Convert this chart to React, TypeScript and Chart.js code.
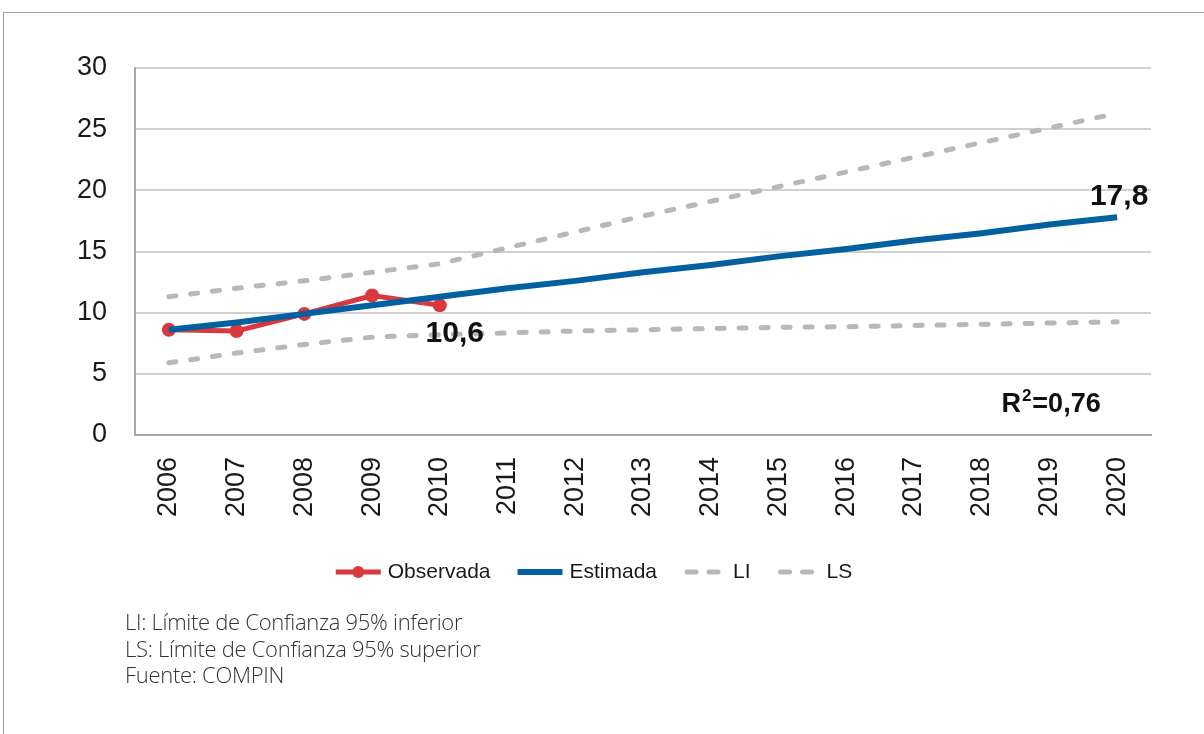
import React, { useEffect, useRef } from "react";
import { Chart, registerables } from "chart.js";

Chart.register(...registerables);

const years = ["2006","2007","2008","2009","2010","2011","2012","2013","2014","2015","2016","2017","2018","2019","2020"];
const observada = [8.6, 8.5, 9.9, 11.4, 10.6];
const estimada = [8.6, 9.2, 9.9, 10.6, 11.3, 12.0, 12.6, 13.3, 13.9, 14.6, 15.2, 15.9, 16.5, 17.2, 17.8];
const li = [5.9, 6.7, 7.4, 8.0, 8.2, 8.35, 8.5, 8.6, 8.7, 8.8, 8.85, 8.95, 9.05, 9.15, 9.25];
const ls = [11.3, 12.0, 12.6, 13.3, 14.0, 15.3, 16.6, 17.9, 19.1, 20.3, 21.5, 22.7, 23.9, 25.1, 26.3];
const yTicks = [0, 5, 10, 15, 20, 25, 30];
const r2 = 0.76;
const footnotes = [
  "LI: Límite de Confianza 95% inferior",
  "LS: Límite de Confianza 95% superior",
  "Fuente: COMPIN",
];

const RED = "#d9393e";
const BLUE = "#0060a0";
const GRAY = "#b8b8b8";
const fmt = (v: number, d = 1) => v.toFixed(d).replace(".", ",");

const labelPlugin = {
  id: "labelPlugin",
  afterDatasetsDraw(chart: any) {
    const { ctx, scales } = chart;
    const x = scales.x, y = scales.y;
    ctx.save();
    ctx.fillStyle = "#111";
    ctx.font = "bold 30px 'Liberation Sans', Arial, sans-serif";
    ctx.textAlign = "center";
    ctx.textBaseline = "middle";
    const oi = observada.length - 1;
    ctx.fillText(fmt(observada[oi]), x.getPixelForValue(oi) + 15, y.getPixelForValue(observada[oi]) + 28);
    const ei = estimada.length - 1;
    ctx.fillText(fmt(estimada[ei]), x.getPixelForValue(ei) + 2, y.getPixelForValue(estimada[ei]) - 21);
    // R2
    ctx.font = "bold 27px 'Liberation Sans', Arial, sans-serif";
    ctx.textAlign = "left";
    const rx = x.getPixelForValue(13) - 48;
    const ry = y.getPixelForValue(2.5);
    ctx.fillText("R", rx, ry);
    let w = ctx.measureText("R").width;
    ctx.font = "bold 17px 'Liberation Sans', Arial, sans-serif";
    ctx.fillText("2", rx + w + 1, ry - 8);
    w += ctx.measureText("2").width + 2;
    ctx.font = "bold 27px 'Liberation Sans', Arial, sans-serif";
    ctx.fillText("=" + fmt(r2, 2), rx + w, ry);
    ctx.restore();
  },
  afterDraw(chart: any) {
    const { ctx } = chart;
    const ds = chart.data.datasets;
    ctx.save();
    ctx.font = "21px 'Liberation Sans', Arial, sans-serif";
    ctx.textBaseline = "middle";
    const cy = 572;
    const lineW = 45;
    const order = [1, 0, 2, 3];
    const gapAfter = (d: any) => (d.borderDash ? 4 : 7);
    const widths = ds.map((d: any) => lineW + gapAfter(d) + ctx.measureText(d.label).width);
    const gapItems = 27;
    const total = order.reduce((s, i) => s + widths[i], 0) + gapItems * (order.length - 1);
    let cx = 594 - total / 2;
    for (const i of order) {
      const d = ds[i];
      ctx.save();
      ctx.strokeStyle = d.borderColor;
      ctx.lineWidth = d.borderWidth;
      ctx.lineCap = d.borderDash ? "round" : "butt";
      ctx.setLineDash(d.borderDash ? [9, 13] : []);
      ctx.beginPath();
      ctx.moveTo(cx + (d.borderDash ? 3 : 0), cy);
      ctx.lineTo(cx + lineW, cy);
      ctx.stroke();
      ctx.setLineDash([]);
      if (d.pointRadius > 0) {
        ctx.fillStyle = d.borderColor;
        ctx.beginPath();
        ctx.arc(cx + lineW / 2, cy, 6, 0, Math.PI * 2);
        ctx.fill();
      }
      ctx.restore();
      ctx.fillStyle = "#1a1a1a";
      ctx.textAlign = "left";
      ctx.fillText(d.label, cx + lineW + gapAfter(d), cy);
      cx += widths[i] + gapItems;
    }
    ctx.restore();
  },
};

export default function App() {
  const ref = useRef<HTMLCanvasElement>(null);
  useEffect(() => {
    document.body.style.margin = "0";
    const chart = new Chart(ref.current as HTMLCanvasElement, {
      type: "line",
      data: {
        labels: years,
        datasets: [
          { label: "Estimada", data: estimada, borderColor: BLUE, backgroundColor: BLUE, borderWidth: 6, pointRadius: 0, order: 0, tension: 0 },
          { label: "Observada", data: observada, borderColor: RED, backgroundColor: RED, borderWidth: 5, pointRadius: 7, pointBorderWidth: 0, pointBackgroundColor: RED, order: 1 },
          { label: "LI", data: li, borderColor: GRAY, backgroundColor: GRAY, borderWidth: 5, borderDash: [7, 15], borderCapStyle: "round", pointRadius: 0, order: 2 },
          { label: "LS", data: ls, borderColor: GRAY, backgroundColor: GRAY, borderWidth: 5, borderDash: [7, 15], borderCapStyle: "round", pointRadius: 0, order: 3 },
        ],
      } as any,
      options: {
        animation: false,
        responsive: false,
        maintainAspectRatio: false,
        layout: { padding: { left: 0, top: 68, right: 53, bottom: 0 } },
        plugins: { legend: { display: false }, tooltip: { enabled: false } },
        scales: {
          x: {
            offset: true,
            grid: { display: false, drawTicks: false },
            border: { display: true, color: "#a8a8a8", width: 2 },
            ticks: {
              minRotation: 90, maxRotation: 90, padding: 22, color: "#1a1a1a",
              font: { family: "'Liberation Sans', Arial, sans-serif", size: 27 },
            },
            afterFit: (a: any) => { a.height = 734 - 435; },
          },
          y: {
            min: 0, max: 30,
            afterBuildTicks: (a: any) => { a.ticks = yTicks.map((v) => ({ value: v })); },
            grid: { color: "#d0d0d0", lineWidth: 2, drawTicks: false },
            border: { display: true, color: "#a8a8a8", width: 2 },
            ticks: {
              padding: 28, color: "#1a1a1a",
              font: { family: "'Liberation Sans', Arial, sans-serif", size: 27 },
            },
            afterFit: (a: any) => { a.width = 135; },
          },
        },
      },
      plugins: [labelPlugin],
    } as any);
    return () => chart.destroy();
  }, []);

  return (
    <div style={{ position: "relative", width: 1204, height: 734, overflow: "hidden", background: "#fff" }}>
      <div style={{ position: "absolute", left: 3, top: 12, right: -2, bottom: -2, borderLeft: "1px solid #a0a0a0", borderTop: "1px solid #a0a0a0" }} />
      <canvas ref={ref} width={1204} height={734} style={{ position: "absolute", left: 0, top: 0 }} />
      <div style={{ position: "absolute", left: 125, top: 608, fontFamily: "'Open Sans', sans-serif", fontWeight: 300, fontSize: 22, lineHeight: "26.5px", color: "#333", letterSpacing: "-0.3px" }}>
        {footnotes.map((t, i) => (<div key={i}>{t}</div>))}
      </div>
    </div>
  );
}
